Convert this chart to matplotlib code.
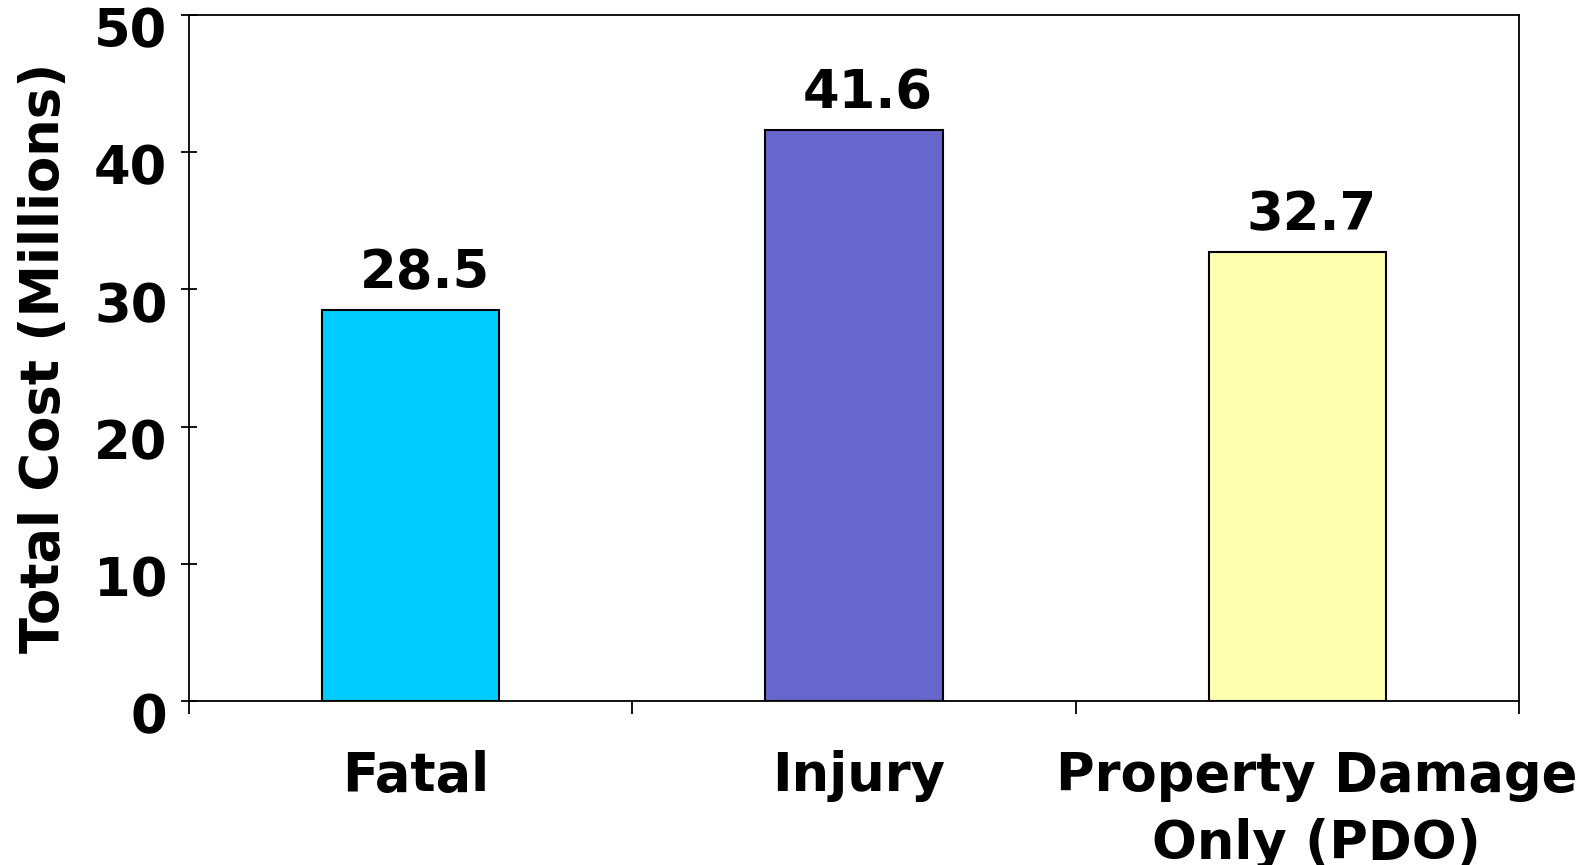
import numpy as np
import matplotlib.pyplot as plt
import matplotlib.transforms as mtransforms

# total cost by crash severity
categories = ['Fatal', 'Injury', 'Property Damage\nOnly (PDO)']
costs = [28.5, 41.6, 32.7]
bar_colors = ['#00CCFF', '#6666CC', '#FFFFB0']
yticks = [0, 10, 20, 30, 40, 50]

plt.rcParams['font.family'] = 'DejaVu Sans'
plt.rcParams['font.weight'] = 'bold'
fs = 38

fig = plt.figure(figsize=(15.85, 8.65), dpi=100)
ax = fig.add_axes([0.1192, 0.1896, 0.8392, 0.7931])

x = np.arange(len(categories))
bars = ax.bar(x, costs, width=0.4, color=bar_colors, edgecolor='black', linewidth=1.5)

ax.set_xlim(-0.5, len(categories) - 0.5)
ax.set_ylim(0, 50)

# value labels, sitting a bit right of the bar centre
for b, v in zip(bars, costs):
    ax.annotate('%.1f' % v, (b.get_x() + b.get_width() / 2, v),
                xytext=(10, 8), textcoords='offset points',
                ha='center', va='bottom', fontsize=fs, fontweight='bold')

# category boundaries get the tick marks, centres get the labels
ax.set_xticks(np.arange(len(categories) + 1) - 0.5)
ax.set_xticklabels([])
ax.set_xticks(x, minor=True)
ax.set_xticklabels(categories, minor=True, fontsize=fs, fontweight='bold',
                   linespacing=1.4)
ax.tick_params(axis='x', which='major', direction='out', length=9, width=1.3)
ax.tick_params(axis='x', which='minor', length=0, pad=35)
# nudge the category names to the right (the long one a bit more)
for lbl, dx in zip(ax.get_xticklabels(minor=True), [0.05, 0.05, 0.19]):
    lbl.set_transform(lbl.get_transform() +
                      mtransforms.ScaledTranslation(dx, 0, fig.dpi_scale_trans))

ax.set_yticks(yticks)
ax.set_yticklabels([str(t) for t in yticks], fontsize=fs, fontweight='bold')
ax.tick_params(axis='y', direction='inout', length=11, width=1.3, pad=10)
shift = mtransforms.ScaledTranslation(0, -0.12, fig.dpi_scale_trans)
for lbl in ax.get_yticklabels():
    lbl.set_transform(lbl.get_transform() + shift)

ax.set_ylabel('Total Cost (Millions)', fontsize=fs, fontweight='bold', labelpad=17)

for s in ax.spines.values():
    s.set_linewidth(1.3)

fig.savefig('out.png', dpi=100)
